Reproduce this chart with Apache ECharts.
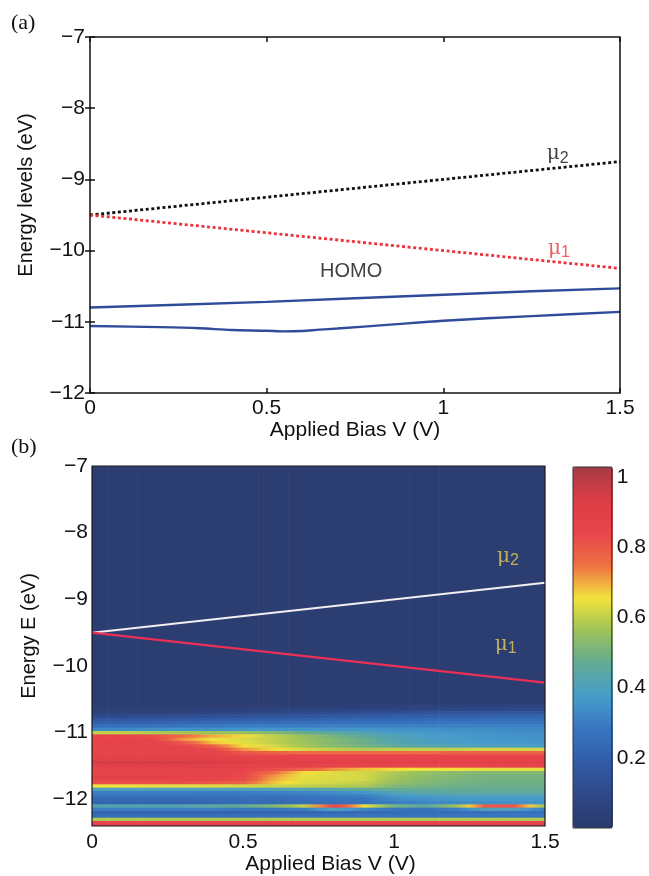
<!DOCTYPE html>
<html><head><meta charset="utf-8">
<script src="https://cdn.jsdelivr.net/npm/echarts@6/dist/echarts.min.js"></script>
<style>html,body{margin:0;padding:0;background:#fff}#c{width:649px;height:876px}</style>
</head><body><div id="c"></div>
<script>
// ---------------- data ----------------
const muBias = [0, 1.5];
const mu2 = [-9.5, -8.75];
const mu1 = [-9.5, -10.25];
const homoBiasUpper = [0, 0.25, 0.5, 0.75, 1.0, 1.25, 1.5];
const homoUpper = [-10.80, -10.76, -10.72, -10.67, -10.62, -10.57, -10.53];
const homoBiasLower = [0, 0.2, 0.31, 0.4, 0.5, 0.55, 0.6, 0.65, 0.7, 0.85, 1.0, 1.25, 1.5];
const homoLower = [-11.06, -11.075, -11.09, -11.115, -11.125, -11.135, -11.13, -11.11, -11.095, -11.04, -10.985, -10.92, -10.86];

// heat map (panel b): columns = bias, rows = energy (first row = background above the band)
const mapBias = [0, 0.1, 0.2, 0.3, 0.4, 0.5, 0.6, 0.7, 0.8, 0.9, 1.0, 1.1, 1.2, 1.3, 1.4, 1.5];
const mapEnergy = [-8.8, -10.6, -10.65, -10.7, -10.75, -10.8, -10.85, -10.9, -10.95, -11.0, -11.05, -11.1, -11.15, -11.2, -11.25,
  -11.3, -11.35, -11.4, -11.45, -11.5, -11.55, -11.6, -11.65, -11.7, -11.75, -11.8, -11.85, -11.9, -11.95, -12.0,
  -12.05, -12.1, -12.15, -12.2, -12.25, -12.3, -12.35, -12.4];
const mapDensity = [
  [.02,.02,.02,.02,.02,.02,.02,.02,.02,.02,.02,.02,.02,.02,.02,.02],
  [.03,.03,.03,.03,.03,.03,.04,.04,.04,.04,.05,.05,.05,.06,.06,.06],
  [.04,.04,.04,.04,.05,.05,.06,.06,.07,.07,.08,.08,.09,.09,.10,.10],
  [.06,.06,.06,.07,.07,.08,.09,.10,.11,.12,.13,.14,.15,.15,.16,.16],
  [.10,.10,.11,.12,.13,.14,.15,.16,.17,.18,.19,.20,.20,.21,.21,.22],
  [.16,.16,.17,.18,.19,.20,.20,.21,.22,.23,.23,.24,.24,.25,.25,.25],
  [.21,.21,.22,.23,.24,.25,.25,.26,.26,.27,.27,.27,.28,.28,.28,.28],
  [.26,.26,.27,.28,.29,.30,.30,.30,.31,.31,.31,.31,.31,.31,.31,.31],
  [.33,.33,.34,.35,.35,.36,.36,.36,.36,.36,.35,.35,.34,.34,.33,.33],
  [.60,.60,.58,.57,.56,.55,.52,.48,.44,.41,.38,.37,.36,.35,.34,.34],
  [.84,.84,.82,.76,.70,.66,.60,.55,.50,.45,.41,.38,.37,.36,.35,.35],
  [.86,.86,.84,.72,.65,.63,.60,.56,.52,.48,.42,.40,.38,.37,.36,.35],
  [.87,.87,.86,.80,.68,.64,.60,.56,.52,.48,.43,.40,.38,.37,.37,.36],
  [.86,.86,.86,.85,.78,.66,.62,.57,.53,.50,.46,.43,.41,.40,.39,.38],
  [.85,.85,.85,.86,.84,.72,.66,.62,.60,.58,.60,.60,.60,.62,.62,.62],
  [.86,.86,.86,.86,.86,.80,.78,.76,.76,.76,.76,.76,.78,.78,.78,.78],
  [.87,.87,.87,.87,.87,.86,.86,.86,.86,.86,.86,.86,.86,.86,.86,.86],
  [.90,.90,.90,.90,.90,.88,.88,.88,.88,.88,.88,.88,.88,.88,.88,.88],
  [.95,.95,.95,.95,.94,.92,.90,.90,.89,.89,.89,.89,.89,.89,.89,.89],
  [.90,.90,.90,.90,.90,.88,.88,.87,.86,.86,.85,.85,.85,.85,.85,.85],
  [.86,.86,.86,.86,.86,.85,.82,.78,.72,.68,.66,.65,.65,.64,.64,.64],
  [.86,.86,.86,.86,.86,.84,.76,.66,.63,.62,.58,.55,.53,.52,.52,.52],
  [.90,.90,.90,.88,.86,.84,.72,.64,.63,.62,.57,.54,.52,.50,.50,.50],
  [.86,.86,.86,.86,.85,.82,.70,.64,.63,.62,.56,.53,.51,.50,.50,.50],
  [.82,.82,.82,.82,.80,.78,.68,.63,.62,.60,.55,.52,.50,.49,.49,.49],
  [.65,.65,.64,.64,.63,.62,.61,.60,.59,.58,.52,.50,.49,.48,.48,.48],
  [.40,.40,.40,.40,.40,.40,.41,.42,.44,.46,.47,.47,.47,.47,.47,.47],
  [.30,.30,.30,.30,.30,.30,.31,.32,.34,.36,.42,.44,.45,.45,.45,.45],
  [.27,.27,.27,.27,.27,.27,.27,.28,.29,.30,.36,.38,.40,.40,.40,.40],
  [.24,.24,.24,.24,.25,.25,.25,.26,.27,.28,.33,.35,.36,.37,.37,.37],
  [.22,.22,.22,.22,.23,.24,.24,.25,.26,.27,.30,.32,.33,.34,.35,.35],
  [.42,.42,.42,.43,.45,.47,.52,.60,.85,.65,.50,.45,.55,.80,.80,.55],
  [.30,.30,.30,.30,.30,.28,.28,.30,.40,.32,.28,.27,.30,.40,.40,.30],
  [.22,.22,.22,.22,.22,.22,.23,.23,.24,.24,.25,.25,.26,.26,.27,.27],
  [.25,.25,.25,.25,.25,.25,.26,.26,.26,.27,.27,.27,.28,.28,.28,.28],
  [.58,.58,.58,.58,.58,.58,.58,.58,.58,.58,.58,.58,.58,.58,.58,.58],
  [.85,.85,.85,.85,.85,.85,.85,.85,.85,.85,.85,.85,.85,.85,.85,.85],
  [.95,.95,.95,.95,.95,.95,.95,.95,.95,.95,.95,.95,.95,.95,.95,.95]
];
const colorbarMax = 1.028;

// annotation labels (data coordinates)
const annotA = [
  {name: 'mu2', value: [1.293, -8.66]},
  {name: 'mu1', value: [1.296, -9.99]},
  {name: 'HOMO', value: [0.739, -10.30]}
];
const annotB = [
  {name: 'mu2', value: [1.341, -8.37]},
  {name: 'mu1', value: [1.334, -9.69]}
];

// ---------------- styles ----------------
const FONT = '"Liberation Sans", Arial, Helvetica, sans-serif';
const TXT = {color: '#111', fontFamily: FONT, fontSize: 20};
const colormap = ['#2b3a6b', '#2e4888', '#315ba6', '#3875bf', '#469ccb', '#62aa95', '#9cc25a',
  '#f2e33c', '#ee7044', '#e8444b', '#de3d46', '#a33b45'];
const minus = v => (v < 0 ? '\u2212' + Math.abs(v) : String(v));
const Y_MIN_B = -12.4, Y_MAX_B = -7, ROW_HALF = 0.025;

const chart = echarts.init(document.getElementById('c'), null, {renderer: 'canvas'});

const cells = [];
mapDensity.forEach((row, r) => row.forEach((v, c) => cells.push([mapBias[c], mapEnergy[r], v, r, c])));

// colour of a value on the same scale as the visualMap (used for shading between cell centres)
const shade = v => echarts.color.lerp(Math.max(0, Math.min(1, v / colorbarMax)), colormap);

function renderCell(params, api) {
  const r = api.value(3), c = api.value(4);
  const n = mapBias.length;
  const xc = mapBias[c];
  const x0 = c === 0 ? mapBias[0] : (mapBias[c - 1] + xc) / 2;
  const x1 = c === n - 1 ? xc : (xc + mapBias[c + 1]) / 2;
  const top = r === 0 ? Y_MAX_B : mapEnergy[r] + ROW_HALF;
  const bot = r === 0 ? mapEnergy[1] + ROW_HALF : Math.max(mapEnergy[r] - ROW_HALF, Y_MIN_B);
  const p0 = api.coord([x0, top]), p1 = api.coord([x1, bot]);
  const row = mapDensity[r], vc = row[c];
  const vl = c > 0 ? (row[c - 1] + vc) / 2 : vc;
  const vr = c < n - 1 ? (row[c + 1] + vc) / 2 : vc;
  const mid = (xc - x0) / (x1 - x0);
  const fill = new echarts.graphic.LinearGradient(0, 0, 1, 0, [
    {offset: 0, color: shade(vl)}, {offset: mid, color: api.visual('color')}, {offset: 1, color: shade(vr)}
  ]);
  return {type: 'rect', shape: {x: p0[0], y: p0[1], width: p1[0] - p0[0] + 0.6, height: p1[1] - p0[1] + 0.6},
    style: {fill}};
}

function muRich(color) {
  return {
    m: {fontFamily: '"DejaVu Serif", "Liberation Serif", serif', fontSize: 20, color, lineHeight: 22, verticalAlign: 'top'},
    s: {fontFamily: FONT, fontSize: 16, color, lineHeight: 16, verticalAlign: 'bottom', padding: [12, 0, 0, 0]},
    h: {fontFamily: FONT, fontSize: 20, color}
  };
}
function annotFormatter(p) {
  if (p.name === 'mu2') return '{m|\u03bc}{s|2}';
  if (p.name === 'mu1') return '{m|\u03bc}{s|1}';
  return '{h|' + p.name + '}';
}

const option = {
  animation: false,
  backgroundColor: '#fff',
  grid: [
    {left: 90, top: 37, width: 530, height: 356, show: true, borderColor: '#111', borderWidth: 1.5, backgroundColor: 'transparent', z: 10},
    {left: 92, top: 466, width: 453, height: 362, show: true, borderColor: '#1a1a1a', borderWidth: 1.2, backgroundColor: 'transparent', z: 10},
    {left: 573, top: 467, width: 40, height: 361, show: true, borderColor: '#333', borderWidth: 1, backgroundColor: 'transparent', z: 10}
  ],
  xAxis: [
    {gridIndex: 0, type: 'value', min: 0, max: 1.5, interval: 0.5, position: 'bottom',
      name: 'Applied Bias V (V)', nameLocation: 'middle', nameGap: 26, nameTextStyle: {...TXT, fontSize: 21},
      axisLine: {show: false}, axisTick: {show: true, inside: true, length: 5, lineStyle: {color: '#111', width: 1.5}},
      axisLabel: {...TXT, fontSize: 21, margin: 5, formatter: minus}, splitLine: {show: false}},
    {gridIndex: 0, type: 'value', min: 0, max: 1.5, interval: 0.5, position: 'top',
      axisLine: {show: false}, axisTick: {show: true, inside: true, length: 5, lineStyle: {color: '#111', width: 1.5}},
      axisLabel: {show: false}, splitLine: {show: false}},
    {gridIndex: 1, type: 'value', min: 0, max: 1.5, interval: 0.5, position: 'bottom', z: 5,
      name: 'Applied Bias V (V)', nameLocation: 'middle', nameGap: 28, nameTextStyle: {...TXT, fontSize: 21, padding: [0, 0, 0, 24]},
      axisLine: {show: false}, axisTick: {show: false},
      axisLabel: {...TXT, fontSize: 21, margin: 6, formatter: minus}, splitLine: {show: false}},
    {gridIndex: 2, type: 'value', min: 0, max: 1, show: false}
  ],
  yAxis: [
    {gridIndex: 0, type: 'value', min: -12, max: -7, interval: 1, position: 'left',
      name: 'Energy levels (eV)', nameLocation: 'middle', nameGap: 54, nameTextStyle: {...TXT, padding: [0, 0, 0, 40]},
      axisLine: {show: false}, axisTick: {show: true, inside: true, length: 5, lineStyle: {color: '#111', width: 1.5}},
      axisLabel: {...TXT, fontSize: 21, margin: 5, formatter: minus}, splitLine: {show: false}},
    {gridIndex: 0, type: 'value', min: -12, max: -7, interval: 1, position: 'right',
      axisLine: {show: false}, axisTick: {show: true, inside: true, length: 5, lineStyle: {color: '#111', width: 1.5}},
      axisLabel: {show: false}, splitLine: {show: false}},
    {gridIndex: 1, type: 'value', min: Y_MIN_B, max: Y_MAX_B, splitNumber: 5, position: 'left', z: 5,
      name: 'Energy E (eV)', nameLocation: 'middle', nameGap: 53, nameTextStyle: {...TXT, padding: [0, 0, 0, 20]},
      axisLine: {show: false}, axisTick: {show: false},
      axisLabel: {...TXT, fontSize: 21, margin: 4, formatter: v => (Number.isInteger(v) ? minus(v) : '')}, splitLine: {show: false}},
    {gridIndex: 2, type: 'value', min: 0, max: colorbarMax, interval: 0.2, position: 'right',
      axisLine: {show: false}, axisTick: {show: false},
      axisLabel: {...TXT, fontSize: 21, margin: 5, formatter: v => (v > 0.01 && v <= 1.001 ? String(+v.toFixed(1)) : '')},
      splitLine: {show: false}}
  ],
  visualMap: {
    type: 'continuous', min: 0, max: colorbarMax, dimension: 2, seriesIndex: 4,
    calculable: false, orient: 'vertical', left: 573, top: 467, itemWidth: 40, itemHeight: 361,
    padding: 0, hoverLink: false, inRange: {color: colormap}
  },
  series: [
    {type: 'line', name: 'mu2', xAxisIndex: 0, yAxisIndex: 0, data: muBias.map((v, i) => [v, mu2[i]]),
      symbol: 'none', lineStyle: {color: '#111', width: 2.8, type: [3, 2.6]}, z: 3},
    {type: 'line', name: 'mu1', xAxisIndex: 0, yAxisIndex: 0, data: muBias.map((v, i) => [v, mu1[i]]),
      symbol: 'none', lineStyle: {color: '#e8343c', width: 2.8, type: [3, 2.6]}, z: 3},
    {type: 'line', name: 'HOMO upper', xAxisIndex: 0, yAxisIndex: 0, data: homoBiasUpper.map((v, i) => [v, homoUpper[i]]),
      symbol: 'none', lineStyle: {color: '#2f4c9a', width: 2.4}, z: 3},
    {type: 'line', name: 'HOMO lower', xAxisIndex: 0, yAxisIndex: 0, data: homoBiasLower.map((v, i) => [v, homoLower[i]]),
      symbol: 'none', smooth: 0.3, lineStyle: {color: '#2f4c9a', width: 2.4}, z: 3},
    {type: 'custom', name: 'transmission', xAxisIndex: 2, yAxisIndex: 2, data: cells, renderItem: renderCell,
      encode: {x: 0, y: 1}, clip: true, silent: true, z: 1},
    {type: 'line', name: 'mu2 b', xAxisIndex: 2, yAxisIndex: 2, data: muBias.map((v, i) => [v, mu2[i]]),
      symbol: 'none', lineStyle: {color: '#f2eef2', width: 2}, z: 4},
    {type: 'line', name: 'mu1 b', xAxisIndex: 2, yAxisIndex: 2, data: muBias.map((v, i) => [v, mu1[i]]),
      symbol: 'none', lineStyle: {color: '#ec2f55', width: 2.2}, z: 4},
    {type: 'scatter', xAxisIndex: 0, yAxisIndex: 0, symbolSize: 0, silent: true, z: 6,
      data: annotA.map(a => ({name: a.name, value: a.value,
        label: {show: true, position: a.name === 'HOMO' ? 'inside' : 'right', distance: 0, formatter: annotFormatter,
          color: a.name === 'mu1' ? '#e8343c' : '#111', rich: muRich(a.name === 'mu1' ? '#e8343c' : '#111')}}))},
    {type: 'scatter', xAxisIndex: 2, yAxisIndex: 2, symbolSize: 0, silent: true, z: 6,
      data: annotB.map(a => ({name: a.name, value: a.value,
        label: {show: true, position: 'right', distance: 0, formatter: annotFormatter, color: '#e3cf5e', rich: muRich('#e3cf5e')}}))}
  ],
  graphic: [
    {type: 'text', left: 11, top: 12, style: {text: '(a)', font: '22px "Liberation Serif", "Times New Roman", serif', fill: '#111'}},
    {type: 'text', left: 11, top: 436, style: {text: '(b)', font: '22px "Liberation Serif", "Times New Roman", serif', fill: '#111'}}
  ]
};
chart.setOption(option);
</script>
</body></html>
